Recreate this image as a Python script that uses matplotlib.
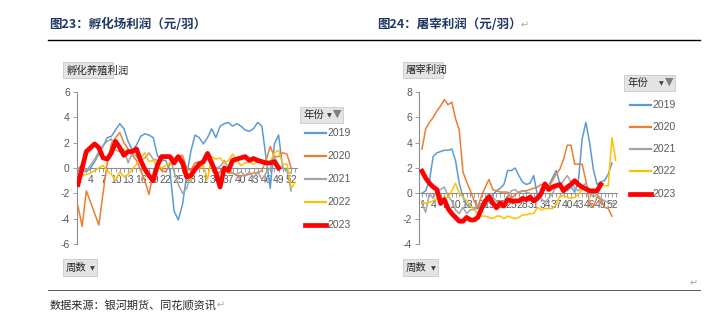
# 绘制孵化场利润与屠宰利润的周度对比图（2019-2023）

import matplotlib
matplotlib.use('Agg')
import matplotlib.pyplot as plt
from matplotlib.lines import Line2D
from matplotlib.patches import Rectangle
import numpy as np

plt.rcParams['font.family'] = ['Noto Sans CJK SC', 'DejaVu Sans']
plt.rcParams['axes.unicode_minus'] = False

years = ['2019', '2020', '2021', '2022', '2023']
colors = ['#5B9BD5', '#ED7D31', '#A5A5A5', '#FFC000', '#FF0000']

# 孵化场利润（元/羽），按周
hatch_2019 = [-0.6, -0.2, -0.3, 0.0, 0.5, 1.1, 1.7, 2.4, 2.5, 3.0, 3.5, 3.1, 2.1, 1.4, 1.8, 2.5, 2.7, 2.6,
              2.4, 1.0, 0.6, 0.6, -0.2, -3.4, -4.1, -2.9, -0.6, 1.3, 2.6, 2.4, 1.9, 2.4, 3.1, 2.4, 3.3, 3.5,
              3.6, 3.3, 3.5, 3.3, 3.0, 2.9, 3.1, 3.6, 3.3, 0.8, -1.6, 1.9, 2.6, 0.0, -0.1, -1.8]
hatch_2020 = [-3.0, -4.6, -1.8, -2.7, -3.6, -4.5, -2.0, 0.4, 1.9, 2.4, 2.8, 2.0, 1.5, 1.0, 0.6, -0.2, -1.0,
              -2.1, -0.4, 0.2, -0.2, -0.3, 0.3, 0.8, 0.9, 1.0, 0.0, -0.2, 0.4, 0.5, 0.3, 0.9, 0.6, -0.6,
              -0.3, 0.1, -0.4, -0.4, -0.6, -0.6, -0.6, -0.5, -0.4, -0.4, -0.2, 0.6, 1.7, 0.9, 0.9, 1.2,
              1.1, 0.0]
hatch_2021 = [0.0, 0.2, -0.2, 0.2, 0.7, 1.3, 1.8, 2.1, 2.3, 1.4, 1.3, 1.5, 0.4, 1.2, 0.9, 0.6, 0.8, 1.2,
              0.7, 0.6, 0.5, 0.9, 0.8, -0.3, -1.3, -2.0, -1.6, -0.6, 0.0, 0.3, 0.4, 0.7, 0.1, 0.0, 0.1,
              0.6, 0.0, -0.4, -0.5, -0.3, -0.6, -0.3, -0.8, -0.3, -0.9, -0.4, 0.0, 0.9, 0.2, 0.0, -0.3,
              -0.4]
hatch_2022 = [-0.6, -0.6, -0.5, -0.4, -0.2, 0.0, 0.2, -0.2, -0.5, -1.0, -0.3, -0.7, -0.5, -0.1, 0.3, 0.8,
              1.2, 0.5, 0.6, 0.2, 0.0, 0.2, 0.4, 0.7, 1.0, 0.3, -0.2, -0.9, -0.2, 0.0, 0.2, -0.9, 0.9,
              0.7, 0.8, 0.4, 0.6, 1.1, 0.6, 0.2, 0.4, 0.5, 0.3, 0.5, 0.6, 0.3, 0.5, 1.2, 1.4, 0.3, 0.3,
              -1.6, -1.1]
hatch_2023 = [-1.3, 0.0, 1.3, 1.6, 1.9, 1.6, 0.8, 0.7, 1.2, 2.1, 1.6, 1.0, 1.3, 1.3, 1.5, 0.6, -0.1,
              -0.6, -1.0, 0.2, 0.9, 0.9, 0.9, 0.4, 0.9, 0.4, -0.7, -0.6, -0.1, 0.3, 0.5, 1.15, 0.4, -0.4,
              -1.5, 0.0, -0.2, 0.6, 0.7, 0.8, 0.9, 0.6, 0.75, 0.6, 0.5, 0.4, 0.4, 0.5, 0.0]

# 屠宰利润（元/羽），按周
slaughter_2019 = [0.0, 0.2, 1.0, 2.9, 3.2, 3.3, 3.4, 3.4, 3.5, 2.6, 0.8, -0.3, -0.9, -1.0, -1.2, -1.2,
                  -0.9, -1.0, -0.6, -0.1, 0.2, 0.4, 0.7, 1.8, 1.8, 2.0, 1.4, 0.9, 0.7, 0.8, 1.4, -0.2,
                  -0.3, 0.5, 0.6, 1.2, 1.8, 0.8, 0.5, 0.2, 0.5, 0.1, 1.0, 4.3, 5.6, 4.0, 1.9, 0.7, 0.9,
                  1.0, 1.5, 2.4]
slaughter_2020 = [3.5, 5.1, 5.6, 6.0, 6.5, 6.9, 7.4, 7.0, 7.2, 5.9, 5.0, 1.7, 0.9, 0.2, -0.6, -1.1, -0.2,
                  0.5, 1.1, 0.3, 0.2, 0.1, 0.1, 0.1, -0.4, -0.1, 0.1, 0.2, 0.2, 0.3, 0.4, 0.5, 0.7, 0.6,
                  0.5, 1.0, 1.5, 1.9, 2.7, 3.8, 3.8, 2.3, 2.3, 2.3, 1.0, -0.8, -1.1, -0.3, -0.5, -1.1,
                  -1.2, -1.8]
slaughter_2021 = [-0.8, -1.5, 0.0, -0.4, 0.2, 0.3, 0.5, -0.2, -0.6, -1.3, -1.6, -1.1, -1.6, -1.3, -1.3,
                  -0.9, -1.1, -0.8, -0.5, -0.3, -0.6, -0.9, -0.6, -0.2, 0.2, 0.3, 0.0, 0.2, 0.1, 0.0,
                  -0.5, -0.1, -0.4, -0.7, -0.4, 0.0, 0.5, 0.6, 1.0, 1.4, 0.9, 0.4, 0.2, 0.5, 0.8, 0.1,
                  -0.3, -0.1, -0.4, -0.6, -0.7, -0.8, -0.8]
slaughter_2022 = [-0.7, -0.8, -0.7, -0.6, -0.4, -0.4, -0.3, -0.3, 0.2, 0.8, 0.0, -0.3, -0.6, -1.0, -1.3,
                  -1.6, -1.8, -1.8, -1.9, -2.0, -1.8, -1.8, -2.0, -1.8, -1.9, -2.0, -1.9, -1.7, -1.7,
                  -1.6, -1.6, -1.1, -1.3, -1.2, -1.2, -1.2, -0.9, -0.2, -0.2, -0.3, -0.4, -0.3, -0.1,
                  0.3, 0.3, 0.2, 0.2, 0.0, 0.7, 0.6, 0.6, 4.4, 2.6]
slaughter_2023 = [1.75, 1.2, 0.8, 0.5, 0.3, -0.8, -0.5, -1.2, -1.6, -1.9, -2.2, -2.2, -1.9, -2.1, -2.1,
                  -1.9, -1.2, -0.6, -0.25, -0.75, -1.15, -0.75, -1.0, -0.5, -0.6, -0.6, -0.6, -0.4,
                  -0.5, -0.3, -0.6, -0.4, 0.0, 0.75, 0.3, 0.5, 0.6, 0.7, 0.2, 0.5, 0.7, 1.0, 0.7, 0.5,
                  0.35, 0.2, 0.2, 0.2, 0.7]

week_ticks = list(range(1, 54, 3))
hatch_yticks = [-6, -4, -2, 0, 2, 4, 6]
slaughter_yticks = [-4, -2, 0, 2, 4, 6, 8]

W, H = 709, 333
AXIS_GRAY = '#8C8C8C'
LABEL_GRAY = '#595959'


# 像素坐标转图形坐标
def fx(x):
    return x / W


def fy(y):
    return 1 - y / H


# 画一个透视表风格的灰色按钮
def draw_button(fig, x0, y0, x1, y1, label, arrow=True, funnel=False):
    fig.add_artist(Rectangle((fx(x0), fy(y1)), fx(x1 - x0), (y1 - y0) / H,
                             transform=fig.transFigure, facecolor='#E4E4E4',
                             edgecolor='#C9C9C9', linewidth=0.6))
    fig.text(fx(x0 + 3), fy((y0 + y1) / 2), label, fontsize=7.5, color='#262626',
             va='center', ha='left')
    if arrow:
        ax_x = x1 - 5 if not funnel else x1 - 14
        fig.text(fx(ax_x), fy((y0 + y1) / 2 + 1), '▼', fontsize=4.5, color='#404040',
                 va='center', ha='center', family='DejaVu Sans')
    if funnel:
        fig.text(fx(x1 - 6), fy((y0 + y1) / 2 - 1), '▼', fontsize=8, color='#7F7F7F',
                 va='center', ha='center', family='DejaVu Sans')


# 画单个分图
def draw_panel(fig, rect, series, yticks):
    ax = fig.add_axes(rect)
    ax.set_facecolor('none')
    for i, vals in enumerate(series):
        weeks = np.arange(1, len(vals) + 1)
        lw = 3.4 if years[i] == '2023' else 1.1
        ax.plot(weeks, vals, color=colors[i], linewidth=lw, zorder=3 + i,
                solid_joinstyle='round')

    ax.set_ylim(yticks[0], yticks[-1])
    ax.set_yticks(yticks)
    ax.set_xticks(week_ticks)
    ax.set_xticks(range(1, 55), minor=True)

    ax.spines['top'].set_visible(False)
    ax.spines['right'].set_visible(False)
    ax.spines['left'].set_color(AXIS_GRAY)
    ax.spines['left'].set_linewidth(0.8)
    ax.spines['bottom'].set_position(('data', 0))
    ax.spines['bottom'].set_color(AXIS_GRAY)
    ax.spines['bottom'].set_linewidth(0.8)

    ax.tick_params(axis='both', which='both', direction='out', color=AXIS_GRAY,
                   labelcolor=LABEL_GRAY, labelsize=7.5, width=0.6)
    ax.tick_params(axis='x', which='both', length=3, pad=2)
    ax.tick_params(axis='y', length=3, pad=2)
    for lab in ax.get_xticklabels() + ax.get_yticklabels():
        lab.set_family('Liberation Sans')
    return ax


# 画图例
def draw_legend(fig, x_line, x_text, ys):
    for i, y in enumerate(ys):
        lw = 3.4 if years[i] == '2023' else 1.6
        fig.add_artist(Line2D([fx(x_line), fx(x_line + 21)], [fy(y), fy(y)],
                              color=colors[i], linewidth=lw, transform=fig.transFigure))
        fig.text(fx(x_text), fy(y), years[i], fontsize=7.5, color=LABEL_GRAY,
                 va='center', ha='left', family='Liberation Sans')


def main():
    fig = plt.figure(figsize=(W / 100, H / 100), dpi=100)
    fig.patch.set_facecolor('white')

    # 标题与分隔线
    title_kw = dict(fontsize=9, fontweight='bold', color='#1F3864', va='center', ha='left')
    fig.text(fx(49), fy(24), '图23：孵化场利润（元/羽）', **title_kw)
    fig.text(fx(377), fy(24), '图24：屠宰利润（元/羽）', **title_kw)
    fig.text(fx(521), fy(25), '↵', fontsize=7, color='#A6A6A6', va='center', ha='left',
             family='DejaVu Sans')
    fig.add_artist(Line2D([fx(48), fx(700)], [fy(40), fy(40)], color='black', linewidth=1,
                          transform=fig.transFigure))
    fig.add_artist(Line2D([fx(48), fx(700)], [fy(290), fy(290)], color='#404040', linewidth=0.6,
                          transform=fig.transFigure))
    fig.text(fx(690), fy(283), '↵', fontsize=7, color='#A6A6A6', va='center', ha='left',
             family='DejaVu Sans')

    # 左图：孵化场利润
    hatch = [hatch_2019, hatch_2020, hatch_2021, hatch_2022, hatch_2023]
    ax1 = draw_panel(fig, [fx(76.7), fy(244), 220.7 / W, 152 / H], hatch, hatch_yticks)
    ax1.set_xlim(0.7, 53.5)
    draw_button(fig, 63, 62, 113, 78, '孵化养殖利润', arrow=False)
    draw_button(fig, 300, 107, 343, 123, '年份', funnel=True)
    draw_button(fig, 63, 259, 97, 276, '周数')
    draw_legend(fig, 305, 327, [133, 156, 179, 202, 225])

    # 右图：屠宰利润
    slaughter = [slaughter_2019, slaughter_2020, slaughter_2021, slaughter_2022, slaughter_2023]
    ax2 = draw_panel(fig, [fx(419), fy(244), 197.8 / W, 152 / H], slaughter, slaughter_yticks)
    ax2.set_xlim(0.2, 53.3)
    draw_button(fig, 403, 62, 443, 78, '屠宰利润', arrow=False)
    draw_button(fig, 624, 75, 675, 91, '年份', funnel=True)
    draw_button(fig, 403, 259, 438, 276, '周数')
    draw_legend(fig, 630, 652, [105, 127, 149, 171, 194])

    # 数据来源
    fig.text(fx(50), fy(305), '数据来源：银河期货、同花顺资讯', fontsize=8, color='#262626',
             va='center', ha='left')
    fig.text(fx(217), fy(305), '↵', fontsize=7, color='#A6A6A6', va='center', ha='left',
             family='DejaVu Sans')

    plt.savefig('out.png', dpi=100)
    plt.close()


if __name__ == '__main__':
    main()
